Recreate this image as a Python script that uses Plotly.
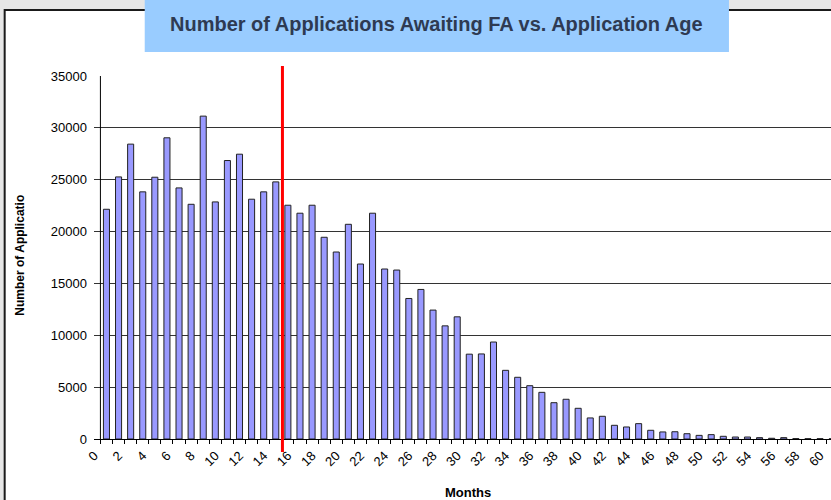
import plotly.graph_objects as go

# ---- data ----
months = list(range(1, 62))
applications = [
    22150, 25270, 28430, 23830, 25240, 29040, 24210, 22630, 31130, 22860,
    26850, 27460, 23120, 23830, 24790, 22540, 21770, 22540, 19450, 18030,
    20700, 16870, 21770, 16390, 16290, 13550, 14420, 12430, 10910, 11780,
    8180, 8200, 9350, 6620, 5950, 5140, 4500, 3500, 3830, 2960,
    2030, 2190, 1320, 1160, 1480, 840, 680, 700, 510, 350,
    420, 260, 190, 190, 130, 70, 130, 40, 30, 30, 20,
]
x_tick_vals = list(range(0, 61, 2))
x_tick_text = [str(v) for v in x_tick_vals]
y_tick_vals = list(range(0, 35001, 5000))
y_tick_text = [str(v) for v in y_tick_vals]
red_line_month = 15.55

title_text = "Number of Applications Awaiting FA vs. Application Age"
y_title = "Number of Applicatio"
x_title = "Months"

# ---- geometry (pixels) ----
W, H = 831, 500
PX_PER_MONTH = 12.09
X_START = -0.03           # left edge of plotting region (months)
AXIS_MONTH = 0.5          # where the value axis is drawn
L = 100.7 - (AXIS_MONTH - X_START) * PX_PER_MONTH
T, B = 76, 439
pw, ph = W - L, B - T


def px_x(p):
    return (p - L) / pw


def px_y(p):
    return (B - p) / ph


fig = go.Figure()
fig.add_trace(go.Bar(
    x=months, y=applications, width=0.5,
    marker=dict(color="#9999FF", line=dict(color="#222222", width=1)),
    showlegend=False, hoverinfo="x+y",
))

font_main = "Liberation Sans, Arial, sans-serif"

fig.update_layout(
    width=W, height=H,
    margin=dict(l=L, r=0, t=T, b=H - B, pad=0),
    paper_bgcolor="#E6E6E6",
    plot_bgcolor="white",
    font=dict(family=font_main, color="black"),
    xaxis=dict(
        range=[X_START, X_START + pw / PX_PER_MONTH],
        tickmode="array", tickvals=x_tick_vals, ticktext=x_tick_text,
        tickangle=-45, tickfont=dict(size=13, color="black"),
        ticks="", ticklabelstandoff=3, showgrid=False, zeroline=False,
        showline=True, linecolor="black", linewidth=1,
        minor=dict(tick0=0.5, dtick=1, ticks="outside", ticklen=4,
                   tickcolor="black", showgrid=False),
    ),
    yaxis=dict(
        range=[0, 35000],
        tickmode="array", tickvals=y_tick_vals, ticktext=y_tick_text,
        tickfont=dict(size=13, color="black"),
        ticks="", ticklabelstandoff=6,
        showgrid=True, gridcolor="#333333", gridwidth=1,
        zeroline=False, showline=False,
    ),
)

shapes = [
    # chart-area frame
    dict(type="rect", xref="paper", yref="paper",
         x0=px_x(5), x1=px_x(W + 20), y0=px_y(H + 20), y1=px_y(10),
         fillcolor="white", line=dict(color="#1a1a1a", width=2), layer="below"),
    # value axis line
    dict(type="line", xref="x", yref="y",
         x0=AXIS_MONTH, x1=AXIS_MONTH, y0=0, y1=35000,
         line=dict(color="black", width=1), layer="between"),
    # title box
    dict(type="rect", xref="paper", yref="paper",
         x0=px_x(145), x1=px_x(729), y0=px_y(52), y1=px_y(-5),
         fillcolor="#99CCFF", line=dict(width=0), layer="above"),
    # red marker line
    dict(type="line", xref="x", yref="paper",
         x0=red_line_month, x1=red_line_month, y0=px_y(452), y1=px_y(66),
         line=dict(color="#FF0000", width=3), layer="above"),
]
fig.update_layout(shapes=shapes)

fig.add_annotation(
    text=f"<b>{title_text}</b>", xref="paper", yref="paper",
    x=px_x(437), y=px_y(24), showarrow=False,
    font=dict(family=font_main, size=20, color="#2E3A52"),
    xanchor="center", yanchor="middle",
)
fig.add_annotation(
    text=f"<b>{y_title}</b>", xref="paper", yref="paper",
    x=px_x(20), y=px_y(255), showarrow=False, textangle=-90,
    font=dict(family=font_main, size=12, color="black"),
    xanchor="center", yanchor="middle",
)
fig.add_annotation(
    text=f"<b>{x_title}</b>", xref="paper", yref="paper",
    x=px_x(468), y=px_y(492), showarrow=False,
    font=dict(family=font_main, size=13, color="black"),
    xanchor="center", yanchor="middle",
)

fig.write_html(
    "out.html",
    config={"displayModeBar": False},
    post_script="document.body.style.margin='0';document.body.style.overflow='hidden';",
)
